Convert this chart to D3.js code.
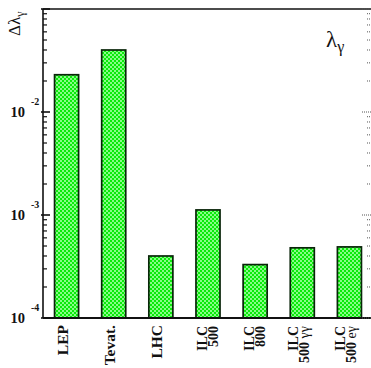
<!DOCTYPE html>
<html>
<head>
<meta charset="utf-8">
<script src="https://cdn.jsdelivr.net/npm/d3@7"></script>
<style>
  html, body { margin: 0; padding: 0; background: #fff; }
  svg { display: block; }
</style>
</head>
<body>
<svg id="chart" width="371" height="368"></svg>
<script>
// Experiments / colliders and the expected sensitivity on lambda_gamma
const categories = ["LEP", "Tevat.", "LHC", "ILC 500", "ILC 800", "ILC 500 γγ", "ILC 500 eγ"];
const labelLines = [["LEP"], ["Tevat."], ["LHC"], ["ILC", "500"], ["ILC", "800"], ["ILC", "500 γγ"], ["ILC", "500 eγ"]];
const values = [0.023, 0.040, 4.0e-4, 1.12e-3, 3.3e-4, 4.8e-4, 4.9e-4];
const majorTicks = [1e-4, 1e-3, 1e-2];
const majorExponents = ["-4", "-3", "-2"];

const svg = d3.select("#chart");
const plotLeft = 43, plotRight = 371, plotTop = 9, plotBottom = 318;

const x = d3.scaleBand()
  .domain(categories)
  .range([plotLeft, 373])
  .paddingInner(0.49)
  .paddingOuter(0.245);

const y = d3.scaleLog()
  .domain([1e-4, 1e-1])
  .range([plotBottom, plotTop]);

// checkered green fill
const defs = svg.append("defs");
const pat = defs.append("pattern")
  .attr("id", "mesh")
  .attr("patternUnits", "userSpaceOnUse")
  .attr("width", 4).attr("height", 4);
pat.append("rect").attr("width", 4).attr("height", 4).attr("fill", "#0aea0a");
pat.append("rect").attr("x", 0).attr("y", 0).attr("width", 2).attr("height", 2).attr("fill", "#88fc88");
pat.append("rect").attr("x", 2).attr("y", 2).attr("width", 2).attr("height", 2).attr("fill", "#88fc88");

// bars
svg.append("g").selectAll("rect")
  .data(values)
  .join("rect")
  .attr("x", (d, i) => x(categories[i]))
  .attr("width", x.bandwidth())
  .attr("y", d => y(d))
  .attr("height", d => y(1e-4) - y(d))
  .attr("fill", "url(#mesh)")
  .attr("stroke", "#0a250a")
  .attr("stroke-width", 1.7);

// frame lines
svg.append("line").attr("x1", plotLeft).attr("x2", plotRight).attr("y1", plotTop).attr("y2", plotTop)
  .attr("stroke", "#111").attr("stroke-width", 1.6);
svg.append("line").attr("x1", plotLeft).attr("x2", plotRight).attr("y1", plotBottom).attr("y2", plotBottom)
  .attr("stroke", "#111").attr("stroke-width", 2);
svg.append("line").attr("x1", plotLeft).attr("x2", plotLeft).attr("y1", plotTop).attr("y2", plotBottom)
  .attr("stroke", "#111").attr("stroke-width", 1.6);

// log ticks, major and minor
const allTicks = y.ticks();
const isMajor = t => Math.abs(Math.log10(t) - Math.round(Math.log10(t))) < 1e-9;

const leftAxis = svg.append("g");
leftAxis.selectAll("line")
  .data(allTicks)
  .join("line")
  .attr("x1", d => isMajor(d) ? plotLeft - 2 : plotLeft)
  .attr("x2", d => isMajor(d) ? plotLeft + 7 : plotLeft + 4)
  .attr("y1", d => y(d)).attr("y2", d => y(d))
  .attr("stroke", "#111")
  .attr("stroke-width", d => isMajor(d) ? 1.6 : 1.2);

const rightAxis = svg.append("g");
rightAxis.selectAll("line")
  .data(allTicks)
  .join("line")
  .attr("x1", d => isMajor(d) ? plotRight - 9 : plotRight - 4)
  .attr("x2", plotRight)
  .attr("y1", d => y(d)).attr("y2", d => y(d))
  .attr("stroke", "#555")
  .attr("stroke-width", 1)
  .attr("stroke-dasharray", "1,1");

// tick labels: 10 with superscript exponent
const tickLab = svg.append("g")
  .attr("font-family", "'Liberation Serif', 'Times New Roman', serif")
  .attr("font-weight", "bold")
  .attr("fill", "#111");
majorTicks.forEach((t, i) => {
  tickLab.append("text")
    .attr("x", 25).attr("y", y(t) + 5)
    .attr("text-anchor", "end")
    .attr("font-size", 14.5)
    .text("10");
  tickLab.append("text")
    .attr("x", 31).attr("y", y(t) - 7)
    .attr("font-size", 10)
    .text(majorExponents[i]);
});

// y-axis title
const yt = svg.append("text")
  .attr("transform", "translate(20,36) rotate(-90)")
  .attr("font-family", "'Liberation Serif', 'Times New Roman', serif")
  .attr("font-size", 17)
  .attr("fill", "#111");
yt.append("tspan").text("Δλ");
yt.append("tspan").attr("dy", 4).attr("font-size", 12).text("γ");

// annotation
const ann = svg.append("text")
  .attr("x", 326).attr("y", 47)
  .attr("font-family", "'Liberation Serif', 'Times New Roman', serif")
  .attr("font-size", 23)
  .attr("fill", "#111");
ann.append("tspan").text("λ");
ann.append("tspan").attr("dy", 5).attr("font-size", 16).text("γ");

// category labels, rotated
const xl = svg.append("g")
  .attr("font-family", "'Liberation Serif', 'Times New Roman', serif")
  .attr("font-weight", "bold")
  .attr("fill", "#111");
categories.forEach((c, i) => {
  const cx = x(c) + x.bandwidth() / 2;
  const lines = labelLines[i];
  if (lines.length === 1) {
    xl.append("text")
      .attr("transform", `translate(${cx + 1},325) rotate(-90)`)
      .attr("text-anchor", "end")
      .attr("font-size", 15.5)
      .text(lines[0]);
  } else {
    const hasGreek = lines[1].includes(" ");
    const shift = hasGreek ? -3 : 0;
    xl.append("text")
      .attr("transform", `translate(${cx - 1.5 + shift},326) rotate(-90)`)
      .attr("text-anchor", "end")
      .attr("font-size", 14)
      .text(lines[0]);
    const t2 = xl.append("text")
      .attr("transform", `translate(${cx + 9.5 + shift},326) rotate(-90)`)
      .attr("text-anchor", "end")
      .attr("font-size", 14);
    const parts = lines[1].split(" ");
    t2.append("tspan").text(parts[0]);
    if (parts[1]) t2.append("tspan").attr("font-weight", "normal").text(" " + parts[1]);
  }
});
</script>
</body>
</html>
